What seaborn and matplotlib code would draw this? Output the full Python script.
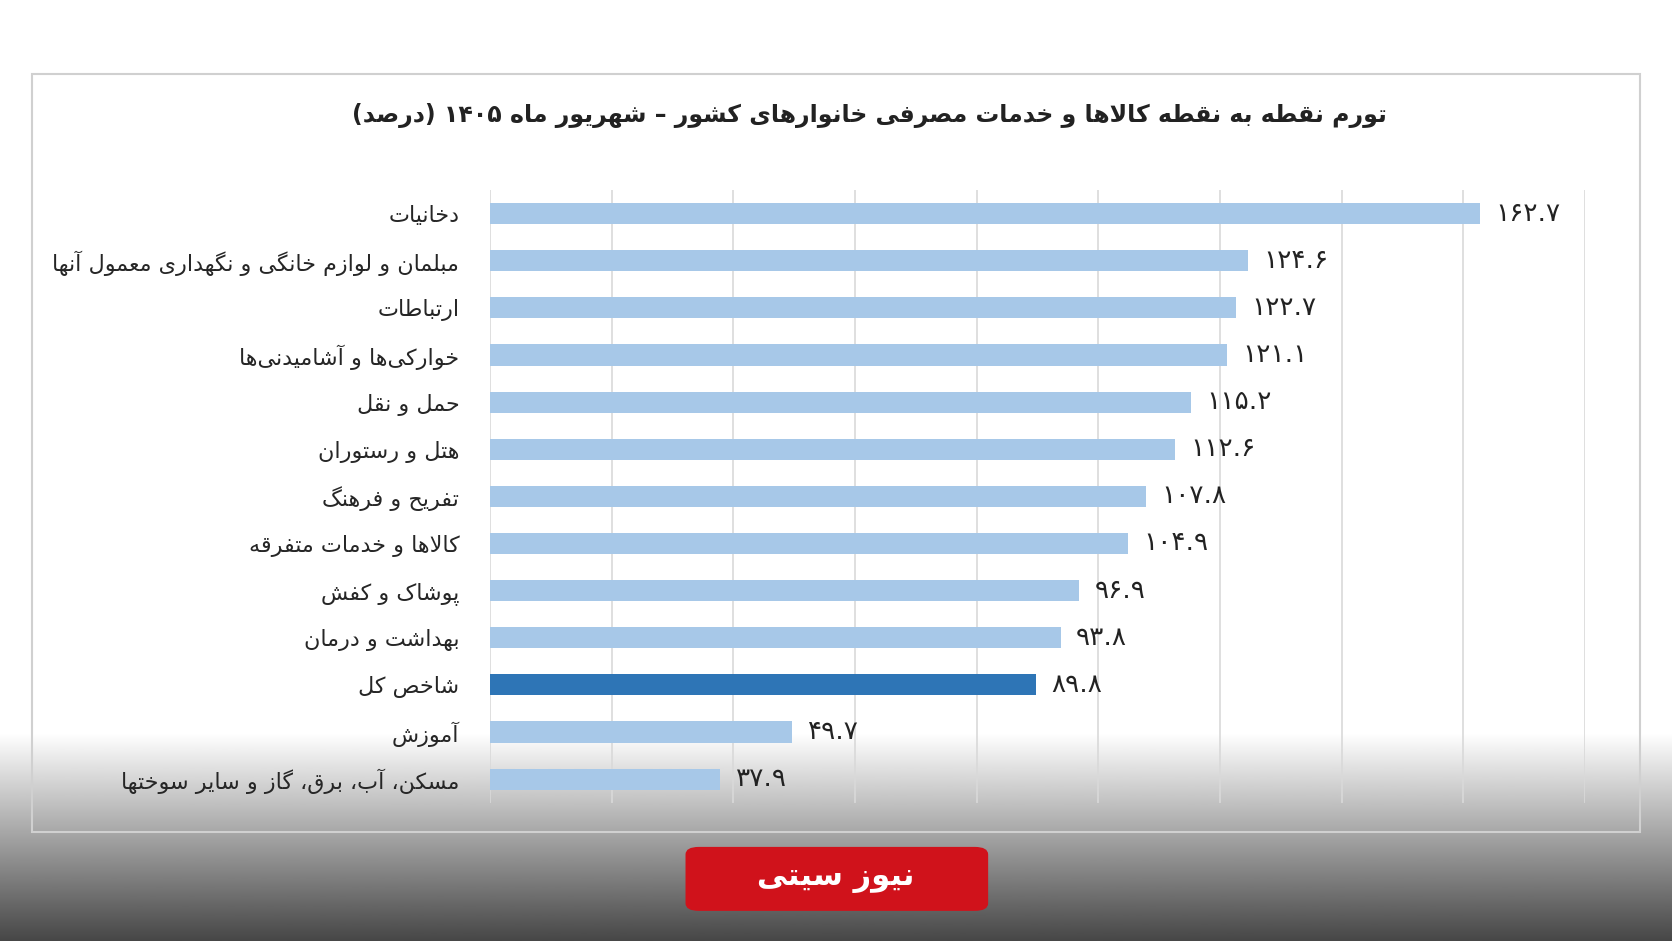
import numpy as np
import matplotlib.pyplot as plt
import seaborn as sns
from matplotlib.patches import Rectangle, FancyBboxPatch

# ---- data ----
categories = ["دخانیات", "مبلمان و لوازم خانگی و نگهداری معمول آنها", "ارتباطات",
              "خوارکی\u200cها و آشامیدنی\u200cها", "حمل و نقل", "هتل و رستوران",
              "تفریح و فرهنگ", "کالاها و خدمات متفرقه", "پوشاک و کفش",
              "بهداشت و درمان", "شاخص کل", "آموزش",
              "مسکن، آب، برق، گاز و سایر سوختها"]
values = [162.7, 124.6, 122.7, 121.1, 115.2, 112.6, 107.8, 104.9, 96.9, 93.8, 89.8, 49.7, 37.9]
highlight = "شاخص کل"
title = "تورم نقطه به نقطه کالاها و خدمات مصرفی خانوارهای کشور – شهریور ماه ۱۴۰۵ (درصد)"

# ---- minimal Persian shaping (matplotlib has no bidi/shaping) ----
FORMS = {  # isolated, final, initial, medial
    'ا': (0xFE8D, 0xFE8E), 'آ': (0xFE81, 0xFE82), 'د': (0xFEA9, 0xFEAA), 'ذ': (0xFEAB, 0xFEAC),
    'ر': (0xFEAD, 0xFEAE), 'ز': (0xFEAF, 0xFEB0), 'ژ': (0xFB8A, 0xFB8B), 'و': (0xFEED, 0xFEEE),
    'ب': (0xFE8F, 0xFE90, 0xFE91, 0xFE92), 'پ': (0xFB56, 0xFB57, 0xFB58, 0xFB59),
    'ت': (0xFE95, 0xFE96, 0xFE97, 0xFE98), 'ث': (0xFE99, 0xFE9A, 0xFE9B, 0xFE9C),
    'ج': (0xFE9D, 0xFE9E, 0xFE9F, 0xFEA0), 'چ': (0xFB7A, 0xFB7B, 0xFB7C, 0xFB7D),
    'ح': (0xFEA1, 0xFEA2, 0xFEA3, 0xFEA4), 'خ': (0xFEA5, 0xFEA6, 0xFEA7, 0xFEA8),
    'س': (0xFEB1, 0xFEB2, 0xFEB3, 0xFEB4), 'ش': (0xFEB5, 0xFEB6, 0xFEB7, 0xFEB8),
    'ص': (0xFEB9, 0xFEBA, 0xFEBB, 0xFEBC), 'ض': (0xFEBD, 0xFEBE, 0xFEBF, 0xFEC0),
    'ط': (0xFEC1, 0xFEC2, 0xFEC3, 0xFEC4), 'ظ': (0xFEC5, 0xFEC6, 0xFEC7, 0xFEC8),
    'ع': (0xFEC9, 0xFECA, 0xFECB, 0xFECC), 'غ': (0xFECD, 0xFECE, 0xFECF, 0xFED0),
    'ف': (0xFED1, 0xFED2, 0xFED3, 0xFED4), 'ق': (0xFED5, 0xFED6, 0xFED7, 0xFED8),
    'ک': (0xFB8E, 0xFB8F, 0xFB90, 0xFB91), 'گ': (0xFB92, 0xFB93, 0xFB94, 0xFB95),
    'ل': (0xFEDD, 0xFEDE, 0xFEDF, 0xFEE0), 'م': (0xFEE1, 0xFEE2, 0xFEE3, 0xFEE4),
    'ن': (0xFEE5, 0xFEE6, 0xFEE7, 0xFEE8), 'ه': (0xFEE9, 0xFEEA, 0xFEEB, 0xFEEC),
    'ی': (0xFBFC, 0xFBFD, 0xFBFE, 0xFBFF), 'ئ': (0xFE89, 0xFE8A, 0xFE8B, 0xFE8C),
}
LAM_ALEF = {'ا': (0xFEFB, 0xFEFC), 'آ': (0xFEF5, 0xFEF6)}


def joins_next(c):
    return c in FORMS and len(FORMS[c]) == 4


def shape(text):
    chars = list(text)
    out = []
    i = 0
    while i < len(chars):
        c = chars[i]
        if c not in FORMS:
            out.append(c if c != '\u200c' else '')
            i += 1
            continue
        prev = chars[i - 1] if i > 0 else ''
        join_prev = joins_next(prev)
        if c == 'ل' and i + 1 < len(chars) and chars[i + 1] in LAM_ALEF:
            f = LAM_ALEF[chars[i + 1]]
            out.append(chr(f[1] if join_prev else f[0]))
            i += 2
            continue
        nxt = chars[i + 1] if i + 1 < len(chars) else ''
        join_next = joins_next(c) and nxt in FORMS
        f = FORMS[c]
        if join_prev and join_next:
            g = f[3]
        elif join_prev:
            g = f[1]
        elif join_next:
            g = f[2]
        else:
            g = f[0]
        out.append(chr(g))
        i += 1
    s = ''.join(out)[::-1]
    s = s.translate(str.maketrans('()', ')('))
    # keep digit runs left-to-right
    res, run = [], []
    for ch in s:
        if ch.isdigit() or (run and ch == '.'):
            run.append(ch)
        else:
            res.extend(run[::-1]); run = []
            res.append(ch)
    res.extend(run[::-1])
    return ''.join(res)


def fa_num(v):
    return f"{v:.1f}".translate(str.maketrans('0123456789', '۰۱۲۳۴۵۶۷۸۹'))


sns.set_style("white")
plt.rcParams['font.family'] = ['DejaVu Sans']

fig = plt.figure(figsize=(16.72, 9.41), dpi=100)

# background gradient at the bottom
bg = fig.add_axes([0, 0, 1, 1], zorder=-2)
grad = np.ones((941, 1))
yy = np.linspace(0, 1, 941)
grad[:, 0] = np.where(yy < 0.78, 1.0, 1.0 - (yy - 0.78) / 0.22 * 0.72)
bg.imshow(grad, cmap='gray', vmin=0, vmax=1, aspect='auto', extent=[0, 1, 0, 1])
bg.axis('off')
fig.patches.append(Rectangle((0.019, 0.116), 0.962, 0.805, transform=fig.transFigure,
                             fill=False, edgecolor='#d0d0d0', lw=1.5, zorder=5))

ax = fig.add_axes([0.293, 0.147, 0.655, 0.651])
ax.set_facecolor('none')
colors = ['#2e75b6' if c == highlight else '#a7c8e8' for c in categories]
labels = [shape(c) for c in categories]
sns.barplot(x=values, y=labels, hue=labels, palette=colors, legend=False,
            width=0.45, ax=ax, saturation=1, linewidth=0)
ax.set_xlim(0, 178)
ax.set_xticks(np.arange(0, 181, 20))
ax.set_xticklabels([])
ax.grid(axis='x', color='#d9d9d9', lw=1.2)
ax.set_axisbelow(True)
for s in ax.spines.values():
    s.set_visible(False)
ax.tick_params(axis='y', length=0, pad=22, labelsize=16)
ax.tick_params(axis='x', length=0)
ax.set_xlabel('')
ax.set_ylabel('')
for i, v in enumerate(values):
    ax.text(v + 2.5, i, fa_num(v), va='center', ha='left', fontsize=19, color='#222222')

fig.text(0.52, 0.877, shape(title), ha='center', va='center', fontsize=17,
         fontweight='bold', color='#222222')

# logo badge
fig.patches.append(FancyBboxPatch((0.413, 0.035), 0.175, 0.062, transform=fig.transFigure,
                                  boxstyle='round,pad=0.003,rounding_size=0.008',
                                  facecolor='#d0121b', edgecolor='none', zorder=6))
fig.text(0.5, 0.066, shape("نیوز سیتی"), ha='center', va='center', fontsize=22,
         fontweight='bold', color='white', zorder=7)

fig.savefig('out.png', dpi=100)
